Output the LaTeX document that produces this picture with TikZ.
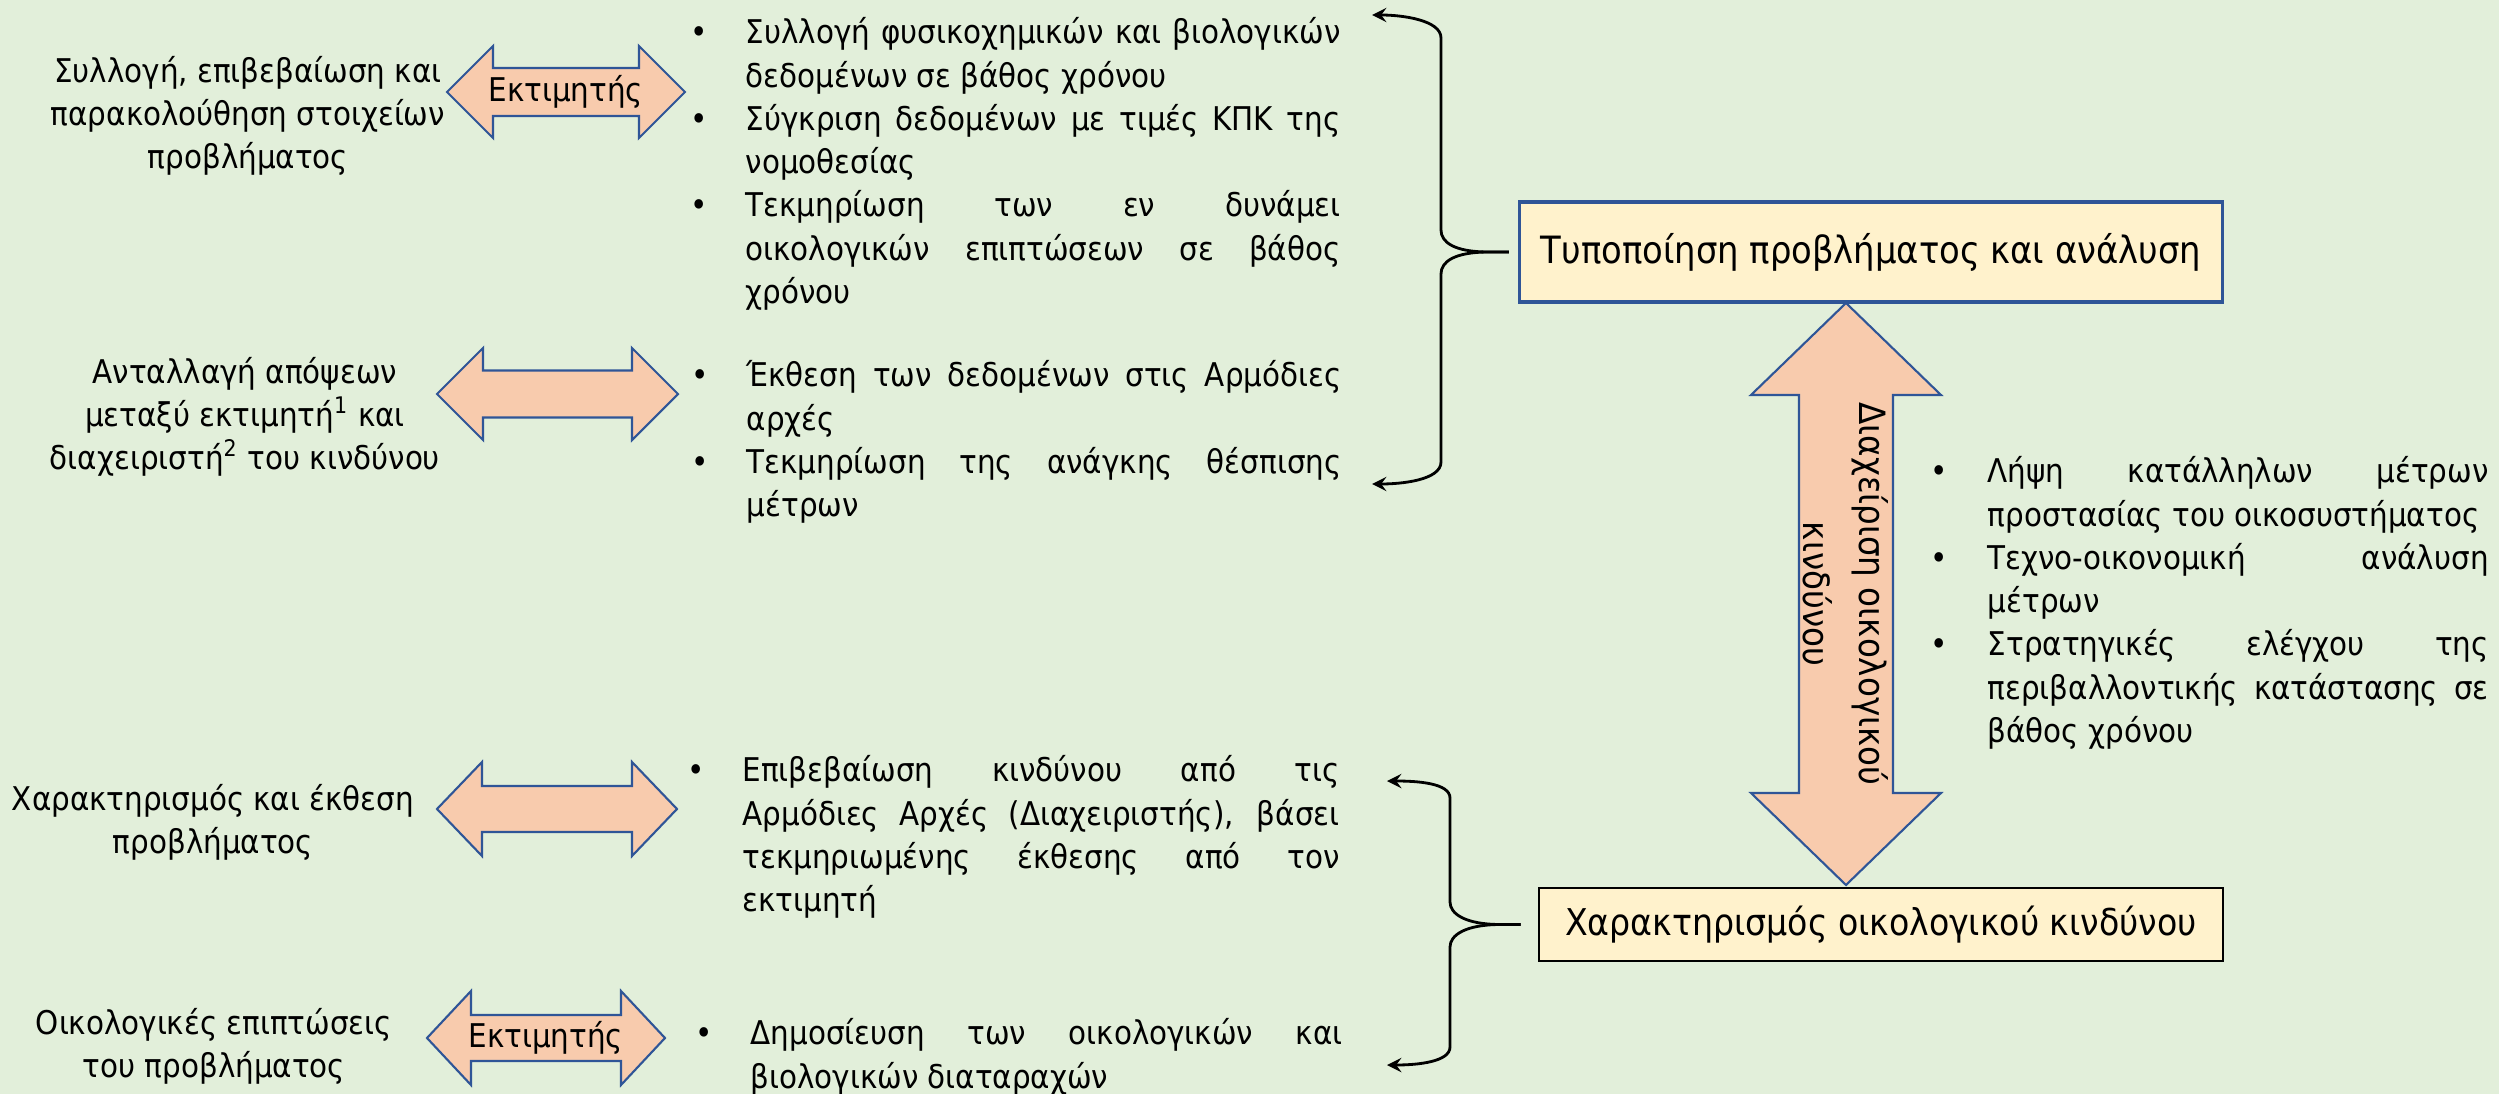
\documentclass[tikz,border=0pt]{standalone}
\usepackage{fontspec}
\IfFontExistsTF{DejaVu Sans Condensed}
  {\setmainfont{DejaVu Sans Condensed}}
  {\setmainfont{DejaVu Sans}[FakeStretch=0.9]}
\usepackage{enumitem}
\usepackage{tikz}
\usetikzlibrary{arrows, calc}
\setlist[itemize]{label=\textbullet, align=left, leftmargin=5.5mm, labelwidth=5.5mm, labelsep=0pt, itemsep=0pt, topsep=0pt, parsep=0pt, partopsep=0pt}

\definecolor{bgcol}{HTML}{E2EFDA}
\definecolor{boxfill}{HTML}{FFF2CC}
\definecolor{arrfill}{HTML}{F8CBAD}
\definecolor{arrline}{HTML}{2F5597}

\tikzstyle{mainbox} = [rectangle, draw, fill=boxfill, line width=0.8pt, inner sep=0pt, font=\fontsize{10.7}{13}\selectfont]
\tikzstyle{items} = [text width=6.5cm, align=justify, inner sep=0pt, anchor=north west, font=\fontsize{9.3}{12.3}\selectfont]
\tikzstyle{side} = [align=center, inner sep=0pt, font=\fontsize{9.3}{12.2}\selectfont]
\tikzstyle{fat} = [draw=arrline, fill=arrfill, line width=0.6pt, line join=miter]
\tikzstyle{brace} = [thick, ->, >=stealth]

% block arrow with two heads: [angle]{centre}{half length}{half shaft}{half head}{head length}
\newcommand{\fatarrow}[6][0]{%
  \draw[fat, shift={(#2)}, rotate=#1] (-#3,0) -- (-#3+#6,#5) -- (-#3+#6,#4) -- (#3-#6,#4) -- (#3-#6,#5) -- (#3,0)
    -- (#3-#6,-#5) -- (#3-#6,-#4) -- (-#3+#6,-#4) -- (-#3+#6,-#5) -- cycle;}

\begin{document}
\begin{tikzpicture}

\fill[bgcol] (0,0) rectangle (24.99,-10.94);
\useasboundingbox (0,0) rectangle (24.99,-10.94);

% Side texts
\node (collect) [side] at (2.48,-1.16) {Συλλογή, επιβεβαίωση και\\παρακολούθηση στοιχείων\\προβλήματος};
\node (exchange) [side] at (2.45,-4.17) {Ανταλλαγή απόψεων\\μεταξύ εκτιμητή\textsuperscript{1} και\\διαχειριστή\textsuperscript{2} του κινδύνου};
\node (report) [side] at (2.13,-8.22) {Χαρακτηρισμός και έκθεση\\προβλήματος};
\node (impact) [side] at (2.14,-10.46) {Οικολογικές επιπτώσεις\\του προβλήματος};

% Block arrows
\coordinate (est1) at (5.66,-0.92);
\coordinate (swap) at (5.575,-3.94);
\coordinate (mid) at (5.57,-8.09);
\coordinate (est2) at (5.46,-10.38);
\coordinate (manage) at (18.46,-5.94);
\fatarrow{est1}{1.19}{0.24}{0.46}{0.46}
\fatarrow{swap}{1.205}{0.235}{0.46}{0.46}
\fatarrow{mid}{1.20}{0.23}{0.47}{0.45}
\fatarrow{est2}{1.19}{0.23}{0.47}{0.44}
\fatarrow[90]{manage}{2.91}{0.47}{0.95}{0.92}
\node (est1lbl) [side] at (est1) {Εκτιμητής};
\node (est2lbl) [side] at (est2) {Εκτιμητής};
\node (managelbl) [side, rotate=-90, font=\fontsize{10.3}{16}\selectfont] at (manage) {Διαχείριση οικολογικού\\κινδύνου};

% Lists
\node (data) [items] at (6.90,0) {
    \begin{itemize}
        \item Συλλογή φυσικοχημικών και βιολογικών \linebreak δεδομένων σε βάθος χρόνου
        \item Σύγκριση δεδομένων με τιμές ΚΠΚ της \linebreak νομοθεσίας
        \item Τεκμηρίωση των εν δυνάμει \linebreak οικολογικών επιπτώσεων σε βάθος \linebreak χρόνου
    \end{itemize}
};
\node (authority) [items] at (6.91,-3.43) {
    \begin{itemize}
        \item Έκθεση των δεδομένων στις Αρμόδιες \linebreak αρχές
        \item Τεκμηρίωση της ανάγκης θέσπισης \linebreak μέτρων
    \end{itemize}
};
\node (confirm) [items, text width=6.52cm] at (6.87,-7.38) {
    \begin{itemize}
        \item Επιβεβαίωση κινδύνου από τις \linebreak Αρμόδιες Αρχές (Διαχειριστής), βάσει \linebreak τεκμηριωμένης έκθεσης από τον \linebreak εκτιμητή
    \end{itemize}
};
\node (publish) [items, text width=6.47cm] at (6.95,-10.01) {
    \begin{itemize}
        \item Δημοσίευση των οικολογικών και \linebreak βιολογικών διαταραχών
    \end{itemize}
};
\node (measures) [items, text width=5.58cm] at (19.30,-4.39) {
    \begin{itemize}[leftmargin=5.7mm, labelwidth=5.7mm]
        \item Λήψη κατάλληλων μέτρων \linebreak προστασίας του οικοσυστήματος
        \item Τεχνο-οικονομική ανάλυση \linebreak μέτρων
        \item Στρατηγικές ελέγχου της \linebreak περιβαλλοντικής κατάστασης σε \linebreak βάθος χρόνου
    \end{itemize}
};

% Main boxes
\node (typo) [mainbox, draw=arrline, line width=1pt, minimum width=7.03cm, minimum height=1.0cm] at (18.71,-2.52) {Τυποποίηση προβλήματος και ανάλυση};
\node (charact) [mainbox, draw=black, minimum width=6.84cm, minimum height=0.73cm, font=\fontsize{10.5}{12}\selectfont] at (18.81,-9.245) {Χαρακτηρισμός οικολογικού κινδύνου};

% Braces
\coordinate (tipA) at (13.72,-0.15);
\coordinate (tipB) at (13.72,-4.84);
\coordinate (tipC) at (13.87,-7.81);
\coordinate (tipD) at (13.87,-10.65);
\draw[brace] ([xshift=-0.09cm]typo.west) -- ++(-0.2,0) .. controls +(-0.35,0) and +(0,-0.12) .. (14.41,-2.30) -- (14.41,-0.38) .. controls +(0,0.18) and +(0.3,0) .. (tipA);
\draw[brace] ([xshift=-0.09cm]typo.west) -- ++(-0.2,0) .. controls +(-0.35,0) and +(0,0.12) .. (14.41,-2.74) -- (14.41,-4.62) .. controls +(0,-0.18) and +(0.3,0) .. (tipB);
\draw[brace] ([xshift=-0.17cm]charact.west) -- ++(-0.2,0) .. controls +(-0.35,0) and +(0,-0.12) .. (14.50,-9.02) -- (14.50,-7.98) .. controls +(0,0.15) and +(0.3,0) .. (tipC);
\draw[brace] ([xshift=-0.17cm]charact.west) -- ++(-0.2,0) .. controls +(-0.35,0) and +(0,0.12) .. (14.50,-9.47) -- (14.50,-10.47) .. controls +(0,-0.15) and +(0.3,0) .. (tipD);

\end{tikzpicture}
\end{document}
